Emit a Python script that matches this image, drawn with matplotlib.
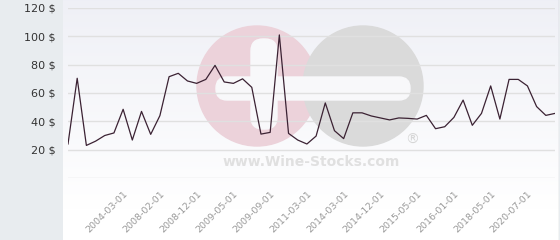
import numpy as np
import matplotlib
matplotlib.use("Agg")
import matplotlib.pyplot as plt
from matplotlib.patches import Circle, FancyBboxPatch

# precios por fecha (eje categórico, puntos equiespaciados)
precios = [24, 70.4, 23, 26, 30, 31.8, 48.5, 26.8, 47, 30.8,
           44, 71.5, 73.9, 68.5, 66.8, 69.6, 79.5, 67.8, 66.8, 70,
           64, 31, 32.2, 101, 31.5, 26.8, 24, 29.6, 53, 33.4,
           27.8, 46, 46, 43.8, 42.4, 41, 42.4, 42.1, 41.6, 44.2,
           34.8, 36.2, 42.8, 55, 37.2, 45.6, 65, 41.6, 69.6, 69.6,
           65, 50.4, 44.2, 45.6]

# etiquetas visibles del eje x (cada 4 puntos)
fechas_idx = [6, 10, 14, 18, 22, 26, 30, 34, 38, 42, 46, 50]
fechas = ["2004-03-01", "2008-02-01", "2008-12-01", "2009-05-01",
          "2009-09-01", "2011-03-01", "2014-03-01", "2014-12-01",
          "2015-05-01", "2016-01-01", "2018-05-01", "2020-07-01"]

y_ticks = [20, 40, 60, 80, 100, 120]

W, H = 560, 240
fig = plt.figure(figsize=(W / 100, H / 100), dpi=100)
fig.patch.set_facecolor("#e8ecef")

# fondo con degradado + marca de agua (coordenadas en píxeles)
ax_bg = fig.add_axes([63 / W, 0, 496 / W, 1])
ax_bg.set_xlim(63, 559)
ax_bg.set_ylim(240, 0)
ax_bg.axis("off")
top = np.array([0.937, 0.941, 0.965])
grad = np.linspace(0, 1, 200)[:, None]
img = top + (1 - top) * np.clip(grad * 1.15, 0, 1)
ax_bg.imshow(img[:, None, :].repeat(2, axis=1), extent=(63, 559, 240, 0),
             aspect="auto", zorder=0)

ax_bg.add_patch(Circle((257, 86), 60, color="#ecd2da", zorder=1))
ax_bg.add_patch(Circle((363, 86), 60, color="#dadada", zorder=1))
ax_bg.add_patch(FancyBboxPatch((251, 39), 26, 90, boxstyle="round,pad=0,rounding_size=12",
                               color="#f8f8fa", zorder=2))
ax_bg.add_patch(FancyBboxPatch((216, 77), 194, 23, boxstyle="round,pad=0,rounding_size=11",
                               color="#f8f8fa", zorder=2))
ax_bg.text(311, 162, "www.Wine-Stocks.com", ha="center", va="center",
           fontsize=10, fontweight="bold", color="#e0e0e0", zorder=2)
ax_bg.text(412, 140, "®", ha="center", va="center", fontsize=10,
           color="#d6d6d6", zorder=2)
ax_bg.plot([559, 559], [0, 240], color="#c8ccd0", lw=1, zorder=3)

# gráfico principal
ax = fig.add_axes([68 / W, (H - 178) / H, (555 - 68) / W, 170 / H])
ax.patch.set_alpha(0)
x = np.arange(len(precios))
ax.plot(x, precios, color="#3b2233", lw=0.9, zorder=5)
ax.set_xlim(0, len(precios) - 1)
ax.set_ylim(0, 120)
ax.set_yticks([0] + y_ticks)
ax.set_yticklabels([""] + [f"{v} $" for v in y_ticks])
ax.set_xticks(fechas_idx)
ax.set_xticklabels(fechas, rotation=45, ha="right", rotation_mode="anchor")
ax.tick_params(axis="y", length=0, pad=9, labelsize=8, labelcolor="#333333")
ax.tick_params(axis="x", length=0, pad=8, labelsize=6.8, labelcolor="#9a9a9a")
ax.grid(axis="y", color="#e0e0e0", lw=1)
ax.grid(axis="x", visible=False)
for s in ax.spines.values():
    s.set_visible(False)

fig.savefig("out.png", dpi=100)
